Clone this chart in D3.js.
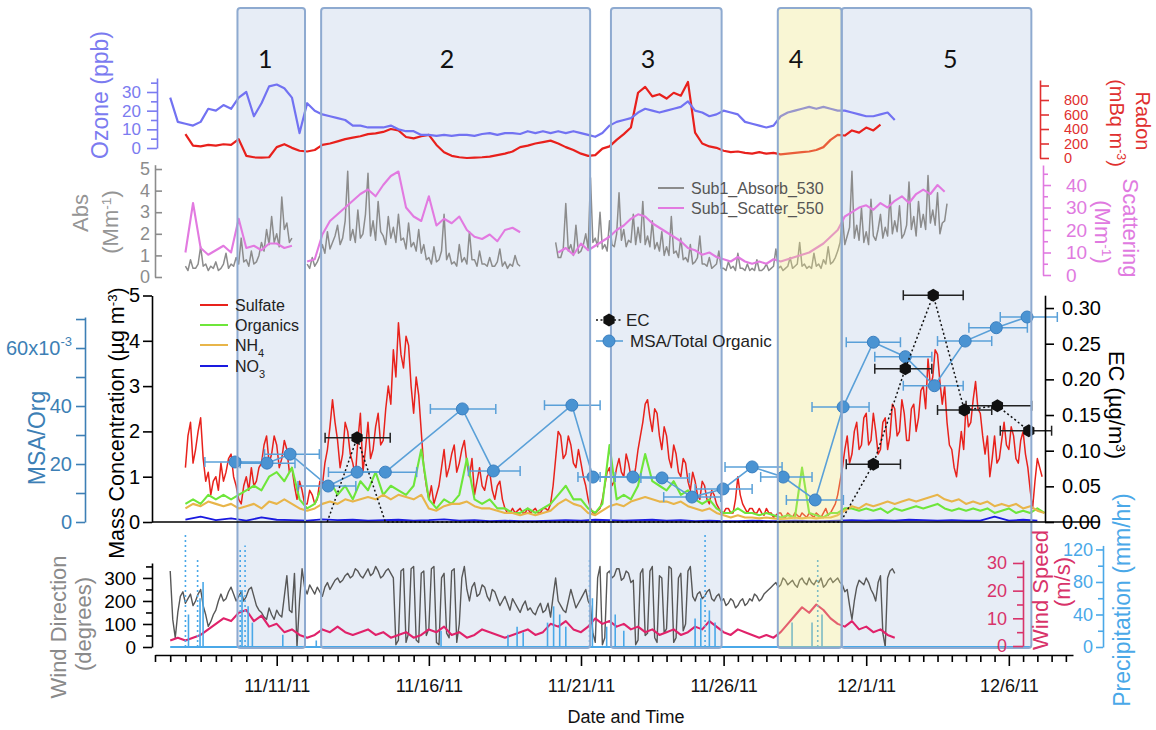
<!DOCTYPE html>
<html>
<head>
<meta charset="utf-8">
<script src="https://cdn.jsdelivr.net/npm/d3@7"></script>
<style>
  body { margin: 0; background: #fff; }
  svg { display: block; }
</style>
</head>
<body>
<svg id="chart" width="1156" height="730"></svg>
<script>
// ---------- time base (days after 7 Nov 2011, UTC) ----------
const DAY = 864e5;
const T0 = Date.UTC(2011, 10, 7);
const at = d => new Date(T0 + d * DAY);

// labelled date ticks (day offsets)
const xLabelDays = [4, 9, 14, 19, 24, 29];

// ---------- sampling periods ----------
const periodNames = ["1", "2", "3", "4", "5"];
const periodStart = [2.71, 5.46, 15.05, 20.9, 23.14];
const periodEnd   = [4.93, 14.32, 18.93, 23.14, 29.79];
const periodLabelDay = [3.62, 9.6, 16.35, 21.54, 26.95];
const periodFill = ["blue", "blue", "blue", "yellow", "blue"];

// ---------- top panel: ozone (ppb) & radon (mBq m-3), 6-hourly ----------
const ozoneStart = 0.5, ozoneStep = 0.25;
const ozone = [27,14,
  13,12,14,21, 20,23,21,27, 30,17,24,33, 34,32,27,8, 24,20,18,17, 16,15,12,12,
  11,11,11,12, 10,9,9,7, 7,6.5,7,6.5, 7,7,6.5,7.5, 8,7,8,8, 7.5,9,8,9, 8,9,8,9,
  8,7,6,8, 12,14,15,16, 19,21,20,19, 20,21,22,25, 20,19,17,18, 20,19,18,14,
  13,12,11,12, 17,19,20,21, 22,21,22,21, 20,20,19,18, 17,17,18,19, 15];

const radonStart = 1.0, radonStep = 0.25;
const radon = [330,170,160,180, 170,190,180,260, 30,10,5,10, 150,190,140,100,
  90,110,180,200, 230,260,280,300, 330,340,360,400, 380,290,270,300, 320,180,80,30,
  10,0,5,10, 20,40,60,90, 150,170,200,220, 240,200,150,110, 60,30,40,130,
  160,250,330,420, 900,980,850,880, 820,900,860,1050, 350,200,160,140,
  100,80,90,70, 60,80,60,70, 50,60,70,80, 90,110,150,250, 320,310,380,350, 420,380,460];

// ---------- optical panel: absorption & scattering (Mm-1) ----------
const absStart = 1.0, absStep = 1 / 12;
const absorb = [
  0.5,0.3,0.8,0.4,0.4,0.6,1.4,0.5,0.6,0.3,0.5,0.4,
  0.7,0.3,0.4,0.6,1.1,0.4,0.6,0.5,0.9,0.6,1.8,0.7,
  0.8,0.5,1.2,0.6,0.7,1.0,1.6,1.2,2.2,1.5,2.8,1.6,
  2.0,1.4,3.7,2.2,2.5,1.6,1.8,null,null,null,null,null,
  0.6,0.4,0.9,0.5,0.7,1.0,1.5,1.1,2.1,1.3,1.6,1.9,
  2.4,1.5,1.8,2.6,4.9,1.7,2.2,1.6,3.1,1.8,2.0,2.9,
  4.8,1.9,2.6,1.7,3.5,2.1,1.9,1.5,2.8,1.8,2.3,1.6,
  2.9,1.7,1.8,1.3,2.5,1.4,1.6,1.2,2.2,1.1,1.5,0.8,
  0.9,0.6,1.4,0.7,0.8,1.2,2.9,0.8,1.1,0.6,0.7,0.5,
  1.5,0.7,0.9,0.6,2.1,0.8,0.8,0.5,1.2,0.6,0.6,0.5,
  0.9,0.5,0.5,0.7,1.3,0.5,0.7,0.4,0.6,0.5,1.0,0.6,
  0.5,null,null,null,null,null,null,null,null,null,null,null,
  null,null,1.6,0.9,0.9,1.3,3.4,1.2,1.5,1.0,2.4,1.1,
  1.2,1.5,2.0,1.3,4.6,1.6,1.8,1.4,3.0,1.3,1.5,1.2,
  2.6,1.5,1.4,2.0,3.9,1.7,2.2,1.4,1.7,1.6,2.9,1.5,
  2.3,1.6,3.5,1.5,1.9,1.4,2.6,1.3,1.6,1.2,2.1,1.0,
  1.4,1.0,2.8,1.1,1.2,0.9,1.8,0.8,0.9,0.7,1.5,0.6,
  0.7,0.9,1.9,0.6,0.6,0.5,0.9,0.4,0.5,0.6,1.2,0.4,
  0.4,0.3,0.7,0.4,0.5,0.3,1.1,0.4,0.4,0.3,0.6,0.3,
  0.4,0.3,0.8,0.3,0.3,0.4,0.6,0.3,0.4,0.5,1.3,0.4,
  0.5,0.3,0.4,0.5,0.9,0.4,0.5,0.6,1.6,0.5,0.6,0.4,
  0.5,0.4,1.1,0.5,0.6,0.4,0.8,0.6,1.4,0.6,0.7,0.9,
  1.2,1.6,2.8,1.5,1.9,2.3,4.9,1.8,2.4,1.7,3.2,1.6,
  2.1,1.5,3.6,1.9,1.7,2.2,2.9,1.8,2.3,1.9,3.8,2.0,
  2.6,2.1,3.3,1.8,2.0,2.4,4.4,2.2,2.8,1.9,3.5,2.3,
  2.9,2.2,4.7,2.5,3.1,2.4,3.9,2.0,2.5,2.6,3.4];

const scatStart = 1.0, scatStep = 0.25;
const scatter = [10,32,12,9, 11,13,10,25, 12,13,11,14, 14,12,13,null,
  6,7,18,24, 27,30,33,36, 38,35,40,44, 46,30,26,24, 35,22,25,23,
  26,20,17,16, 18,15,20,21, 19,null,null,null, null,10,12,9, 14,11,13,15,
  17,20,22,25, 27,26,23,21, 19,17,15,12, 11,9,10,8, 7,6,8,6,
  5,6,5,7, 6,7,8,9, 10,12,14,17, 20,26,28,30, 31,29,32,30,
  33,35,32,36, 38,36,40,37];

// ---------- aerosol composition (µg m-3) ----------
const sulfateStart = 1.0, sulfateStep = 1 / 12;
const sulfate = [
  1.2,1.9,2.2,1.3,1.6,2.0,2.3,1.4,0.9,1.1,0.6,0.9,
  1.0,0.7,1.3,0.9,1.1,1.4,1.5,1.0,0.8,0.5,0.4,0.8,
  1.0,0.7,1.2,0.8,0.9,1.2,1.3,1.7,1.9,1.3,1.5,1.9,
  1.7,1.2,1.4,1.8,1.6,1.1,1.2,0.8,0.5,0.9,0.7,0.4,
  0.4,0.7,0.6,0.4,0.5,0.9,0.8,1.3,1.6,2.1,2.7,2.2,
  1.8,1.2,1.5,2.2,2.0,1.5,1.3,1.0,1.8,2.4,1.1,1.6,
  2.2,1.4,1.6,2.1,2.4,1.7,1.8,2.5,3.0,2.6,3.8,3.2,
  4.4,3.7,3.4,4.1,3.9,3.0,2.4,3.2,2.8,2.0,1.2,0.8,
  0.5,0.8,0.4,0.6,0.8,1.2,1.6,1.0,1.2,1.5,1.7,1.1,
  1.3,1.6,1.8,1.3,1.0,1.4,0.6,0.9,1.2,0.8,0.7,1.0,
  1.1,0.7,0.5,0.8,0.9,0.5,0.3,0.2,0.2,0.3,0.2,0.25,
  0.3,0.2,0.2,0.3,0.2,0.25,0.3,0.2,0.2,0.3,0.3,0.25,
  0.4,0.8,1.4,2.0,1.9,1.4,1.5,1.9,1.7,1.3,1.2,1.6,
  1.3,1.0,0.8,0.5,0.3,0.2,0.2,0.25,0.3,0.5,0.8,1.1,
  1.2,0.8,0.9,1.2,1.4,1.1,1.0,1.5,1.3,1.0,0.9,1.2,
  1.6,1.9,2.2,2.6,2.7,2.3,2.0,2.5,2.4,1.9,1.6,2.1,
  1.9,1.4,1.2,1.7,1.5,1.1,1.0,1.4,1.3,0.9,0.7,1.1,
  0.9,0.6,0.5,0.9,0.8,0.5,0.4,0.7,0.6,0.4,0.3,0.2,
  0.2,0.3,0.3,0.2,0.2,0.5,1.0,0.6,0.4,0.3,0.2,0.3,
  0.3,0.2,0.2,0.3,0.2,0.15,0.3,0.2,0.2,0.1,0.15,0.2,
  0.2,0.1,0.1,0.2,0.15,0.1,0.2,0.15,0.1,0.2,0.15,0.1,
  0.2,0.15,0.1,0.2,0.15,0.1,0.2,0.3,0.15,0.2,0.3,0.4,
  0.6,0.9,1.2,1.6,1.9,1.3,1.5,2.0,2.2,1.6,1.7,2.3,
  2.4,1.7,1.8,2.4,2.0,1.5,1.6,2.2,2.3,1.6,1.9,2.6,
  2.5,1.9,2.0,2.7,2.4,1.8,1.8,2.5,2.6,2.0,2.3,2.9,
  3.0,2.5,3.6,3.0,3.2,3.8,3.7,3.1,2.6,3.0,2.2,1.7,
  1.6,1.2,1.0,1.5,2.0,1.6,2.6,2.1,2.2,2.7,3.1,2.5,
  2.4,1.9,1.5,1.9,1.0,1.4,1.9,1.3,1.4,1.8,2.2,1.7,
  1.6,2.1,1.9,1.4,1.3,1.8,2.0,1.5,1.2,0.7,0.3,0.9,
  1.4,1.2,1.0];

const organicsStart = 1.0, organicsStep = 0.25;
const organics = [0.4,0.5,0.4,0.6, 0.5,0.6,0.5,0.6, 0.7,0.8,0.7,1.0, 1.1,0.9,1.2,0.5,
  0.3,0.4,0.8,0.9, 0.6,0.8,0.5,0.9, 0.7,1.1,0.6,0.8, 0.7,0.6,0.8,1.6,
  0.5,0.3,0.5,0.4, 0.6,1.4,0.5,0.4, 0.5,0.3,0.3,0.2, 0.2,0.3,0.2,0.3,
  0.4,0.6,0.8,0.5, 0.5,0.3,0.2,0.4, 1.7,0.5,0.6,0.5, 0.8,1.5,0.9,0.8,
  0.7,0.9,0.6,0.7, 0.5,0.4,0.5,0.3, 0.2,0.2,0.3,0.2, 0.2,0.15,0.2,0.15,
  0.1,0.15,0.1,1.2, 0.2,0.15,0.1,0.2, 0.2,0.3,0.3,0.25, 0.3,0.25,0.3,0.2,
  0.3,0.25,0.3,0.35, 0.3,0.35,0.4,0.3, 0.25,0.3,0.25,0.3, 0.25,0.3,0.2,0.25,
  0.3,0.2,0.25,0.2, 0.3,0.2];

const nh4Start = 1.0, nh4Step = 0.25;
const nh4 = [0.3,0.4,0.35,0.45, 0.4,0.35,0.4,0.3, 0.35,0.4,0.3,0.45, 0.4,0.5,0.4,0.3,
  0.25,0.3,0.4,0.45, 0.4,0.5,0.45,0.5, 0.55,0.5,0.6,0.5, 0.6,0.55,0.5,0.6,
  0.3,0.25,0.35,0.4, 0.4,0.45,0.35,0.3, 0.3,0.25,0.2,0.2, 0.15,0.2,0.15,0.2,
  0.25,0.4,0.5,0.4, 0.35,0.2,0.15,0.25, 0.35,0.4,0.35,0.45, 0.5,0.55,0.5,0.45,
  0.45,0.4,0.45,0.35, 0.3,0.25,0.3,0.2, 0.15,0.1,0.15,0.1, 0.1,0.08,0.1,0.08,
  0.07,0.08,0.1,0.08, 0.1,0.08,0.1,0.1, 0.15,0.25,0.35,0.3, 0.4,0.35,0.4,0.45,
  0.4,0.45,0.5,0.45, 0.5,0.55,0.6,0.5, 0.45,0.5,0.4,0.45, 0.4,0.45,0.35,0.4,
  0.35,0.4,0.3,0.35, 0.25,0.2];

const no3Start = 1.0, no3Step = 0.5;
const no3 = [0.05,0.12,0.04,0.08,0.03,0.10,0.05,0.04,0.03,0.06,
  0.04,0.05,0.03,0.04,0.05,0.03,0.04,0.06,0.03,0.04,
  0.02,0.03,0.02,0.02,0.03,0.04,0.03,0.05,0.04,0.03,
  0.04,0.05,0.03,0.04,0.02,0.03,0.02,0.02,0.03,0.02,
  0.02,0.03,0.02,0.02,0.03,0.04,0.03,0.04,0.03,0.05,
  0.04,0.03,0.04,0.03,0.03,0.12,0.03,0.05,0.03];

// ---------- filter samples: EC (µg/m3) and MSA/Org ----------
const ecDay = [5.66, 6.64, 7.57, 23.1, 24.25, 25.37, 26.35, 27.44, 28.6, 29.7];
const ecValue = [0, 0.118, 0, 0, 0.081, 0.215, 0.318, 0.157, 0.163, 0.128];
const ecFrom = [null, 5.59, null, null, 23.3, 24.3, 25.3, 26.5, 27.5, 28.7];
const ecTo   = [null, 7.73, null, null, 25.2, 26.3, 27.4, 28.4, 29.8, 30.5];

const msaDay = [2.63, 3.68, 4.44, 5.69, 6.64, 7.57, 10.1, 11.12, 13.7, 14.42, 15.82, 16.84,
  17.89, 18.98, 20.0, 21.09, 22.21, 23.19, 24.25, 25.37, 26.39, 27.47, 28.56, 29.64];
const msaValue = [0.0207, 0.0203, 0.0234, 0.0124, 0.0172, 0.0172, 0.039, 0.0176, 0.0403, 0.0155,
  0.0155, 0.0152, 0.0086, 0.0114, 0.019, 0.0155, 0.0076, 0.0397, 0.062, 0.057, 0.047, 0.0624, 0.067, 0.0707];
const msaFrom = [1.64, 2.8, 3.6, 4.7, 5.7, 6.6, 9.05, 10.3, 12.8, 13.9, 14.67, 16.1,
  16.9, 18.0, 19.05, 20.3, 21.2, 22.1, 23.3, 24.3, 25.3, 26.5, 27.6, 28.7];
const msaTo = [3.55, 4.6, 5.4, 6.6, 7.6, 8.6, 11.2, 12.0, 14.67, 15.2, 16.8, 17.8,
  18.9, 20.0, 21.05, 22.1, 23.2, 24.1, 25.2, 26.3, 27.4, 28.4, 29.65, 30.7];

// ---------- meteorology ----------
const windDirStart = 0.5, windDirStep = 1 / 12;
const windDir = [
  330,120,40,150,220,240,190,210,230,180,200,230,
  250,180,140,90,110,140,160,200,230,200,210,240,
  260,230,200,220,240,200,220,250,260,220,180,160,
  150,130,120,170,140,120,160,140,130,220,310,160,
  150,320,0,200,340,260,230,270,250,230,260,240,
  220,260,280,250,270,290,300,280,290,310,320,300,
  310,340,330,310,300,320,340,310,320,350,330,300,
  310,330,340,320,300,10,30,330,340,20,60,340,
  350,30,20,320,330,50,80,340,350,20,10,300,
  320,60,40,330,340,20,100,300,350,250,200,260,
  280,220,230,270,260,220,200,250,240,210,180,200,
  220,190,160,210,190,170,150,180,200,160,170,150,
  140,170,190,150,160,190,130,220,300,200,180,160,
  150,200,250,210,170,190,
  210,230,250,200,180,60,20,300,350,10,40,320,
  330,300,310,340,340,290,300,330,320,280,290,10,
  30,320,340,50,60,330,350,40,20,310,300,60,
  80,350,340,20,40,300,320,70,100,330,350,220,
  200,230,240,210,220,240,250,210,200,220,230,200,
  210,180,190,210,200,170,180,200,210,180,190,210,
  200,230,220,200,210,230,240,250,260,270,280,260,
  270,300,290,270,280,290,270,260,290,300,280,270,
  300,280,270,290,280,300,260,270,290,300,280,290,
  300,280,270,240,250,180,120,200,260,290,280,270,
  300,280,250,230,200,280,310,60,0,300,330,340,
  320];

const windSpeedStart = 0.5, windSpeedStep = 0.25;
const windSpeed = [2,3, 2,3,4,6, 8,10,9,12, 13,9,11,7, 8,5,6,4, 3,4,6,5, 7,5,4,5,
  6,4,5,3, 4,5,3,4, 6,5,7,4, 5,3,4,6, 5,4,3,4, 5,6,4,5, 8,7,9,6,
  5,7,10,8, 9,7,8,6, 7,5,6,4, 5,6,4,5, 7,6,9,7, 5,4,6,5, 4,3,4,3,
  5,8,11,14, 12,15,13,10, 8,7,9,6, 7,5,6,4, 3];

const precipDay = [0.5, 1.0, 1.1, 1.4, 1.48, 1.58, 2.8, 2.86, 2.96, 3.06, 3.2, 4.2, 5.3,
  9.4, 11.6, 11.9, 12.1, 12.9, 13.1, 13.3, 13.5, 14.3, 14.4, 14.9, 15.2, 15.5,
  18.0, 18.2, 18.35, 18.5, 18.7, 21.4, 22.1, 22.3, 22.45, 29.75];
const precipMm = [0, 140, 40, 110, 60, 80, 120, 70, 125, 50, 30, 15, 8,
  20, 15, 25, 18, 30, 50, 40, 25, 110, 60, 25, 40, 20,
  35, 60, 140, 45, 30, 30, 30, 110, 40, 0];

// ---------- drawing ----------
const FONT = "'Liberation Sans', Arial, Helvetica, sans-serif";
const svg = d3.select("#chart");
svg.append("rect").attr("width", 1156).attr("height", 730).attr("fill", "#fff");

// time scale: Nov 7 – Nov 21 and Nov 21 – Dec 8 segments
const x = d3.scaleUtc().domain([at(0), at(14), at(31.25)]).range([155, 581, 1073]);

// vertical scales for every trace
const yOzone = d3.scaleLinear().domain([0, 37.5]).range([148, 78]);
const yRadon = d3.scaleLinear().domain([0, 1076]).range([158, 80]);
const yAbs   = d3.scaleLinear().domain([0, 5.2]).range([277, 164.7]);
const yScat  = d3.scaleLinear().domain([0, 48.9]).range([275, 165]);
const yMass  = d3.scaleLinear().domain([0, 5]).range([522, 295.5]);
const yMsa   = d3.scaleLinear().domain([0, 0.0707]).range([522, 317]);
const yEC    = d3.scaleLinear().domain([0, 0.318]).range([522, 295.2]);
const yWd    = d3.scaleLinear().domain([0, 365]).range([647, 563]);
const yWs    = d3.scaleLinear().domain([0, 31]).range([646, 560.2]);
const yPr    = d3.scaleLinear().domain([0, 125]).range([647, 545.4]);

const series = (start, step, vals) => vals.map((v, i) => ({ t: at(start + i * step), v }));

function trace(pts, y, color, width) {
  svg.append("path").datum(pts)
    .attr("fill", "none").attr("stroke", color).attr("stroke-width", width)
    .attr("stroke-linejoin", "round")
    .attr("d", d3.line().defined(d => d.v != null).x(d => x(d.t)).y(d => y(d.v)));
}

const BOX_TOP = 8, BOX_BOTTOM = 648;

// blue period panels sit beneath the traces
periodNames.forEach((n, i) => {
  if (periodFill[i] !== "blue") return;
  svg.append("rect")
    .attr("x", x(at(periodStart[i]))).attr("y", BOX_TOP)
    .attr("width", x(at(periodEnd[i])) - x(at(periodStart[i])))
    .attr("height", BOX_BOTTOM - BOX_TOP)
    .attr("rx", 3).attr("fill", "#e7edf6");
});

// top panel
trace(series(radonStart, radonStep, radon), yRadon, "#e8201c", 2.2);
trace(series(ozoneStart, ozoneStep, ozone), yOzone, "#7272f2", 2.2);

// optical panel
trace(series(absStart, absStep, absorb), yAbs, "#8c8c8c", 1.5);
trace(series(scatStart, scatStep, scatter), yScat, "#e27ae0", 2.1);

// composition panel
trace(series(sulfateStart, sulfateStep, sulfate), yMass, "#e8221c", 1.5);
trace(series(organicsStart, organicsStep, organics), yMass, "#6ee63a", 2.1);
trace(series(nh4Start, nh4Step, nh4), yMass, "#e8b54a", 2.1);
trace(series(no3Start, no3Step, no3), yMass, "#1a1ae0", 1.8);

// meteorology panel
trace(series(windDirStart, windDirStep, windDir), yWd, "#575757", 1.4);
trace(series(windSpeedStart, windSpeedStep, windSpeed), yWs, "#e0226a", 2.1);
const precip = precipDay.map((d, i) => ({ t: at(d), v: precipMm[i] }));
svg.append("line")
  .attr("x1", x(precip[0].t)).attr("x2", x(precip[precip.length - 1].t))
  .attr("y1", yPr(0)).attr("y2", yPr(0))
  .attr("stroke", "#4aa8e8").attr("stroke-width", 2);
svg.append("g").selectAll("line").data(precip.filter(d => d.v > 0)).join("line")
  .attr("x1", d => x(d.t)).attr("x2", d => x(d.t))
  .attr("y1", yPr(0)).attr("y2", d => yPr(d.v))
  .attr("stroke", "#4aa8e8").attr("stroke-width", 1.6)
  .attr("stroke-dasharray", d => d.v > 90 ? "2,3" : null);

// yellow period washes over the traces
periodNames.forEach((n, i) => {
  if (periodFill[i] !== "yellow") return;
  svg.append("rect")
    .attr("x", x(at(periodStart[i]))).attr("y", BOX_TOP)
    .attr("width", x(at(periodEnd[i])) - x(at(periodStart[i])))
    .attr("height", BOX_BOTTOM - BOX_TOP)
    .attr("fill", "#ece27a").attr("fill-opacity", 0.32);
});

// EC and MSA/Org filter samples
function hexagon(cx, cy, r) {
  return d3.range(6).map(k => {
    const a = Math.PI / 6 + k * Math.PI / 3;
    return [cx + r * Math.cos(a), cy + r * Math.sin(a)];
  });
}
function errorBars(days, from, to, vals, y, color) {
  const g = svg.append("g").attr("stroke", color).attr("stroke-width", 1.5);
  days.forEach((d, i) => {
    if (from[i] == null) return;
    const yy = y(vals[i]), x1 = x(at(from[i])), x2 = x(at(to[i]));
    g.append("line").attr("x1", x1).attr("x2", x2).attr("y1", yy).attr("y2", yy);
    g.append("line").attr("x1", x1).attr("x2", x1).attr("y1", yy - 5).attr("y2", yy + 5);
    g.append("line").attr("x1", x2).attr("x2", x2).attr("y1", yy - 5).attr("y2", yy + 5);
  });
}
const msaPts = msaDay.map((d, i) => ({ t: at(d), v: msaValue[i] }));
const ecPts = ecDay.map((d, i) => ({ t: at(d), v: ecValue[i] }));

errorBars(msaDay, msaFrom, msaTo, msaValue, yMsa, "#5aa0d8");
svg.append("path").datum(msaPts).attr("fill", "none").attr("stroke", "#5aa0d8").attr("stroke-width", 1.6)
  .attr("d", d3.line().x(d => x(d.t)).y(d => yMsa(d.v)));
svg.append("g").selectAll("circle").data(msaPts).join("circle")
  .attr("cx", d => x(d.t)).attr("cy", d => yMsa(d.v)).attr("r", 6)
  .attr("fill", "#4a93d2").attr("stroke", "#3a7fc0").attr("stroke-width", 1);

errorBars(ecDay, ecFrom, ecTo, ecValue, yEC, "#222");
svg.append("path").datum(ecPts).attr("fill", "none").attr("stroke", "#111").attr("stroke-width", 1.5)
  .attr("stroke-dasharray", "2,2.5")
  .attr("d", d3.line().x(d => x(d.t)).y(d => yEC(d.v)));
svg.append("g").selectAll("polygon").data(ecPts.filter(d => d.v > 0)).join("polygon")
  .attr("points", d => hexagon(x(d.t), yEC(d.v), 6.5).join(" "))
  .attr("fill", "#111");

// period outlines and numbers
periodNames.forEach((n, i) => {
  svg.append("rect")
    .attr("x", x(at(periodStart[i]))).attr("y", BOX_TOP)
    .attr("width", x(at(periodEnd[i])) - x(at(periodStart[i])))
    .attr("height", BOX_BOTTOM - BOX_TOP)
    .attr("rx", 3).attr("fill", "none").attr("stroke", "#8eaad0").attr("stroke-width", 2);
  svg.append("text")
    .attr("x", x(at(periodLabelDay[i]))).attr("y", 68)
    .attr("text-anchor", "middle").attr("font-family", "Lato, 'Open Sans', sans-serif")
    .attr("font-size", 25).attr("fill", "#111").text(n);
});

// ---------- axes ----------
function axis({ scale, side, pos, major, minor = [], size = 8, minorSize = 5, pad = 4,
                color, font = 18, fmt = d => d, family = FONT }) {
  const make = side === "left" ? d3.axisLeft : d3.axisRight;
  const g = svg.append("g").attr("transform", `translate(${pos},0)`);
  g.call(make(scale).tickValues(major).tickSize(size).tickSizeOuter(0).tickPadding(pad).tickFormat(fmt));
  g.select(".domain").attr("stroke", color).attr("stroke-width", 1.6);
  g.selectAll(".tick line").attr("stroke", color).attr("stroke-width", 1.6);
  g.selectAll(".tick text").attr("fill", color).attr("font-size", font).attr("font-family", family);
  if (minor.length) {
    const m = svg.append("g").attr("transform", `translate(${pos},0)`);
    m.call(make(scale).tickValues(minor).tickSize(minorSize).tickSizeOuter(0).tickFormat(""));
    m.select(".domain").remove();
    m.selectAll(".tick line").attr("stroke", color).attr("stroke-width", 1.6);
  }
  return g;
}

// left side
axis({ scale: yOzone, side: "left", pos: 157, major: [0, 10, 20, 30], minor: [5, 15, 25, 35],
       size: 10, minorSize: 6, pad: 6, color: "#7b7bf0", font: 17 });
axis({ scale: yAbs, side: "left", pos: 155, major: [0, 1, 2, 3, 4, 5],
       size: -7, pad: 5, color: "#8c8c8c", font: 18 });
axis({ scale: yMass, side: "left", pos: 152, major: [0, 1, 2, 3, 4, 5],
       size: 9, pad: 3, color: "#000", font: 20 });
const msaAxis = axis({ scale: yMsa, side: "left", pos: 85, major: [0, 0.02, 0.04, 0.06],
       minor: [0.01, 0.03, 0.05, 0.07], size: 9, minorSize: 9, pad: 4, color: "#3d7fb5", font: 20,
       fmt: d => d === 0.06 ? "60x10" : String(Math.round(d * 1000)) });
msaAxis.selectAll(".tick text").filter(d => d === 0.06)
  .append("tspan").attr("dy", -9).attr("font-size", 13).text("-3");
axis({ scale: yWd, side: "left", pos: 152, major: [0, 100, 200, 300], minor: [50, 150, 250, 350],
       size: 9, minorSize: 6, pad: 7, color: "#000", font: 19 });

// right side
axis({ scale: yRadon, side: "right", pos: 1040, major: [0, 200, 400, 600, 800], minor: [1000],
       size: 9, minorSize: 9, pad: 15, color: "#e03030", font: 14.5,
       family: "'Liberation Sans Narrow', 'Liberation Sans', Arial, sans-serif" });
axis({ scale: yScat, side: "right", pos: 1043, major: [0, 10, 20, 30, 40], minor: [5, 15, 25, 35, 45],
       size: 8, minorSize: 5, pad: 15, color: "#e07ae0", font: 19 });
axis({ scale: yEC, side: "right", pos: 1045, major: [0, 0.05, 0.10, 0.15, 0.20, 0.25, 0.30],
       size: 9, pad: 8, color: "#000", font: 20, fmt: d3.format(".2f") });
axis({ scale: yWs, side: "left", pos: 1023, major: [0, 10, 20, 30], minor: [5, 15, 25],
       size: 10, minorSize: 6, pad: 6, color: "#d8336a", font: 18 });
axis({ scale: yPr, side: "left", pos: 1103, major: [0, 40, 80, 120], minor: [20, 60, 100],
       size: 7, minorSize: 5, pad: 3, color: "#4aa8e8", font: 18 });

// composition baseline
svg.append("line").attr("x1", 152).attr("x2", 1100).attr("y1", yMass(0)).attr("y2", yMass(0))
  .attr("stroke", "#000").attr("stroke-width", 1.6);

// time axis
const xTicks = d3.range(0, 31.01, 0.5);
const gx = svg.append("g").attr("transform", "translate(0,655)");
gx.call(d3.axisBottom(x).tickValues(xTicks.map(at)).tickSize(7).tickPadding(17).tickSizeOuter(0)
  .tickFormat((d, i) => xLabelDays.includes(xTicks[i]) ? d3.utcFormat("%-m/%-d/%y")(d) : ""));
gx.select(".domain").attr("stroke", "#000").attr("stroke-width", 1.6);
gx.selectAll(".tick line").attr("stroke", "#000").attr("stroke-width", 1.6)
  .attr("y2", (d, i) => xLabelDays.includes(xTicks[i]) ? 11 : 7);
gx.selectAll(".tick text").attr("font-size", 18).attr("font-family", FONT).attr("fill", "#111");

// ---------- titles ----------
function vtitle(cx, cy, angle, color, size, parts) {
  const t = svg.append("text")
    .attr("transform", `translate(${cx},${cy}) rotate(${angle})`)
    .attr("text-anchor", "middle").attr("dy", "0.35em")
    .attr("font-family", FONT).attr("font-size", size).attr("fill", color);
  parts.forEach(p => {
    if (typeof p === "string") t.append("tspan").text(p);
    else t.append("tspan").attr("baseline-shift", "super").attr("font-size", size * 0.62).text(p.sup);
  });
}
vtitle(100, 95, -90, "#7b7bf0", 23, ["Ozone (ppb)"]);
vtitle(80, 213, -90, "#959595", 22, ["Abs"]);
vtitle(110, 222, -90, "#959595", 22, ["(Mm", { sup: "-1" }, ")"]);
vtitle(116, 423, -90, "#000", 21.5, ["Mass Concentration (µg m", { sup: "-3" }, ")"]);
vtitle(37, 438, -90, "#3d7fb5", 23, ["MSA/Org"]);
vtitle(58, 627, -90, "#8a8a8a", 22, ["Wind Direction"]);
vtitle(83, 624, -90, "#8a8a8a", 22, ["(degrees)"]);

vtitle(1143, 121, 90, "#e03030", 20, ["Radon"]);
vtitle(1117, 123, 90, "#e03030", 20, ["(mBq m", { sup: "-3" }, ")"]);
vtitle(1131, 228, 90, "#e07ae0", 22, ["Scattering"]);
vtitle(1103, 232, 90, "#e07ae0", 22, ["(Mm", { sup: "-1" }, ")"]);
vtitle(1117, 405, 90, "#000", 22, ["EC (µg/m", { sup: "3" }, ")"]);
vtitle(1040, 590, -90, "#d8336a", 22, ["Wind Speed"]);
vtitle(1062, 582, -90, "#d8336a", 22, ["(m/s)"]);
vtitle(1122, 600, -90, "#4aa8e8", 23, ["Precipitation (mm/hr)"]);

svg.append("text").attr("x", 626).attr("y", 723).attr("text-anchor", "middle")
  .attr("font-family", FONT).attr("font-size", 18).attr("fill", "#111").text("Date and Time");

// ---------- legends ----------
const massLegend = [
  { name: "Sulfate", color: "#e8221c", y: 305 },
  { name: "Organics", color: "#6ee63a", y: 325 },
  { name: "NH", sub: "4", color: "#e8b54a", y: 345 },
  { name: "NO", sub: "3", color: "#1a1ae0", y: 366 }];
massLegend.forEach(l => {
  svg.append("line").attr("x1", 200).attr("x2", 228).attr("y1", l.y).attr("y2", l.y)
    .attr("stroke", l.color).attr("stroke-width", 2);
  const t = svg.append("text").attr("x", 235).attr("y", l.y).attr("dy", "0.35em")
    .attr("font-family", FONT).attr("font-size", 16).attr("fill", "#222").text(l.name);
  if (l.sub) t.append("tspan").attr("baseline-shift", "sub").attr("font-size", 11).text(l.sub);
});

svg.append("line").attr("x1", 596).attr("x2", 623).attr("y1", 320).attr("y2", 320)
  .attr("stroke", "#111").attr("stroke-width", 1.5).attr("stroke-dasharray", "2,2.5");
svg.append("polygon").attr("points", hexagon(609, 320, 6.5).join(" ")).attr("fill", "#111");
svg.append("text").attr("x", 626).attr("y", 320).attr("dy", "0.35em")
  .attr("font-family", FONT).attr("font-size", 17).attr("fill", "#222").text("EC");
svg.append("line").attr("x1", 596).attr("x2", 623).attr("y1", 341).attr("y2", 341)
  .attr("stroke", "#5aa0d8").attr("stroke-width", 1.6);
svg.append("circle").attr("cx", 609).attr("cy", 341).attr("r", 6)
  .attr("fill", "#4a93d2").attr("stroke", "#3a7fc0");
svg.append("text").attr("x", 630).attr("y", 341).attr("dy", "0.35em")
  .attr("font-family", FONT).attr("font-size", 17).attr("fill", "#222").text("MSA/Total Organic");

const optLegend = [
  { name: "Sub1_Absorb_530", color: "#8c8c8c", y: 188 },
  { name: "Sub1_Scatter_550", color: "#e27ae0", y: 208 }];
optLegend.forEach(l => {
  svg.append("line").attr("x1", 658).attr("x2", 684).attr("y1", l.y).attr("y2", l.y)
    .attr("stroke", l.color).attr("stroke-width", 2);
  svg.append("text").attr("x", 691).attr("y", l.y).attr("dy", "0.35em")
    .attr("font-family", FONT).attr("font-size", 16).attr("fill", "#555").text(l.name);
});
</script>
</body>
</html>
